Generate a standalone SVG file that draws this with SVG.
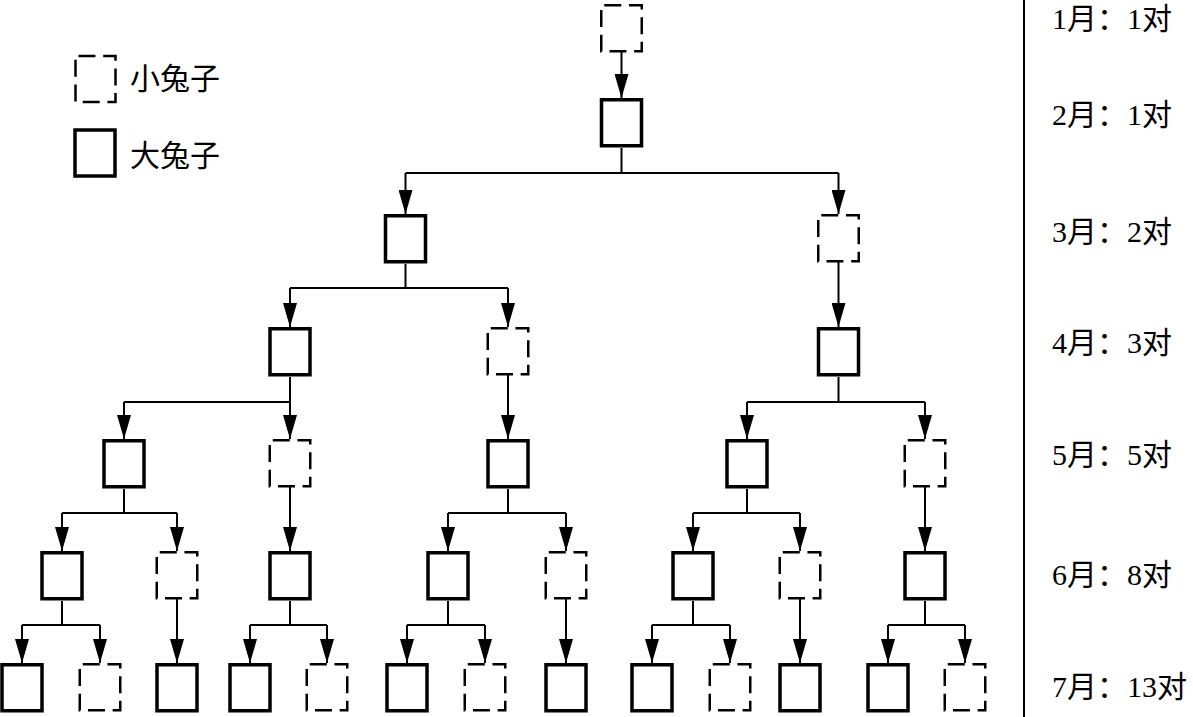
<svg xmlns="http://www.w3.org/2000/svg" width="1193" height="717" viewBox="0 0 1193 717">
<style>
.s{fill:#fff;stroke:#000;stroke-width:3.5}
.d{fill:#fff;stroke:#000;stroke-width:2.5;stroke-dasharray:17 7.7;stroke-dashoffset:21.7}
.c{fill:none;stroke:#000;stroke-width:2}
.a{fill:none;stroke:#000;stroke-width:2;marker-end:url(#ah)}
.t{font-family:"Liberation Serif","Noto Sans CJK SC",serif;font-size:30px;fill:#000}
</style>
<defs>
<marker id="ah" viewBox="0 -7 24 14" refX="24" refY="0" markerWidth="24" markerHeight="14" markerUnits="userSpaceOnUse" orient="auto">
<path d="M0,-7 L24,0 L0,7 z" fill="#000"/>
</marker>
</defs>
<rect width="1193" height="717" fill="#fff"/>

<g id="legend">
<rect class="d" x="75.5" y="56" width="40" height="46"/>
<text class="t" x="130" y="89">小兔子</text>
<rect class="s" x="75" y="130" width="40" height="46"/>
<text class="t" x="130" y="166">大兔子</text>
</g>

<g id="divider"><line x1="1024" y1="0" x2="1024" y2="717" stroke="#000" stroke-width="2"/></g>

<g id="months">
<text class="t" x="1052" y="29">1月：1对</text>
<text class="t" x="1052" y="125">2月：1对</text>
<text class="t" x="1052" y="242">3月：2对</text>
<text class="t" x="1052" y="353">4月：3对</text>
<text class="t" x="1052" y="465">5月：5对</text>
<text class="t" x="1052" y="585">6月：8对</text>
<text class="t" x="1052" y="697">7月：13对</text>
</g>

<g id="connectors">
<path class="a" d="M621.5,52 V98"/>
<path class="c" d="M621.5,148 V173 M405.5,173 H838.5"/>
<path class="a" d="M405.5,173 V214"/>
<path class="a" d="M838.5,173 V214"/>

<path class="c" d="M405.5,264 V288 M290,288 H508"/>
<path class="a" d="M290,288 V327"/>
<path class="a" d="M508,288 V327"/>
<path class="a" d="M838.5,262 V327"/>

<path class="c" d="M290,377 V402 M124,402 H290"/>
<path class="a" d="M124,402 V439"/>
<path class="a" d="M290,402 V439"/>
<path class="a" d="M508,375 V439"/>
<path class="c" d="M838.5,377 V402 M747,402 H925"/>
<path class="a" d="M747,402 V439"/>
<path class="a" d="M925,402 V439"/>

<path class="c" d="M124,489 V513 M62,513 H177"/>
<path class="a" d="M62,513 V551"/>
<path class="a" d="M177,513 V551"/>
<path class="a" d="M290,487 V551"/>
<path class="c" d="M508,489 V513 M448,513 H566"/>
<path class="a" d="M448,513 V551"/>
<path class="a" d="M566,513 V551"/>
<path class="c" d="M747,489 V513 M693,513 H800"/>
<path class="a" d="M693,513 V551"/>
<path class="a" d="M800,513 V551"/>
<path class="a" d="M925,487 V551"/>

<path class="c" d="M62,601 V625 M22,625 H100"/>
<path class="a" d="M22,625 V663"/>
<path class="a" d="M100,625 V663"/>
<path class="a" d="M177,599 V663"/>
<path class="c" d="M290,601 V625 M250,625 H327"/>
<path class="a" d="M250,625 V663"/>
<path class="a" d="M327,625 V663"/>
<path class="c" d="M448,601 V625 M407,625 H485"/>
<path class="a" d="M407,625 V663"/>
<path class="a" d="M485,625 V663"/>
<path class="a" d="M566,599 V663"/>
<path class="c" d="M693,601 V625 M652,625 H730"/>
<path class="a" d="M652,625 V663"/>
<path class="a" d="M730,625 V663"/>
<path class="a" d="M800,599 V663"/>
<path class="c" d="M925,601 V625 M888,625 H965"/>
<path class="a" d="M888,625 V663"/>
<path class="a" d="M965,625 V663"/>
</g>

<g id="n1"><rect class="d" x="601.25" y="5.25" width="40.5" height="46"/></g>
<g id="n2"><rect class="s" x="601.5" y="99.75" width="40" height="46"/></g>
<g id="n3a"><rect class="s" x="385.5" y="215.75" width="40" height="46"/></g>
<g id="n3b"><rect class="d" x="818.25" y="215.25" width="40.5" height="46"/></g>
<g id="n4a"><rect class="s" x="270" y="328.75" width="40" height="46"/></g>
<g id="n4b"><rect class="d" x="487.75" y="328.25" width="40.5" height="46"/></g>
<g id="n4c"><rect class="s" x="818.5" y="328.75" width="40" height="46"/></g>
<g id="n5a"><rect class="s" x="104" y="440.75" width="40" height="46"/></g>
<g id="n5b"><rect class="d" x="269.75" y="440.25" width="40.5" height="46"/></g>
<g id="n5c"><rect class="s" x="488" y="440.75" width="40" height="46"/></g>
<g id="n5d"><rect class="s" x="727" y="440.75" width="40" height="46"/></g>
<g id="n5e"><rect class="d" x="904.75" y="440.25" width="40.5" height="46"/></g>
<g id="n6a"><rect class="s" x="42" y="552.75" width="40" height="46"/></g>
<g id="n6b"><rect class="d" x="156.75" y="552.25" width="40.5" height="46"/></g>
<g id="n6c"><rect class="s" x="270" y="552.75" width="40" height="46"/></g>
<g id="n6d"><rect class="s" x="428" y="552.75" width="40" height="46"/></g>
<g id="n6e"><rect class="d" x="545.75" y="552.25" width="40.5" height="46"/></g>
<g id="n6f"><rect class="s" x="673" y="552.75" width="40" height="46"/></g>
<g id="n6g"><rect class="d" x="779.75" y="552.25" width="40.5" height="46"/></g>
<g id="n6h"><rect class="s" x="905" y="552.75" width="40" height="46"/></g>
<g id="n7a"><rect class="s" x="2" y="664.75" width="40" height="46"/></g>
<g id="n7b"><rect class="d" x="79.75" y="664.25" width="40.5" height="46"/></g>
<g id="n7c"><rect class="s" x="157" y="664.75" width="40" height="46"/></g>
<g id="n7d"><rect class="s" x="230" y="664.75" width="40" height="46"/></g>
<g id="n7e"><rect class="d" x="306.75" y="664.25" width="40.5" height="46"/></g>
<g id="n7f"><rect class="s" x="387" y="664.75" width="40" height="46"/></g>
<g id="n7g"><rect class="d" x="464.75" y="664.25" width="40.5" height="46"/></g>
<g id="n7h"><rect class="s" x="546" y="664.75" width="40" height="46"/></g>
<g id="n7i"><rect class="s" x="632" y="664.75" width="40" height="46"/></g>
<g id="n7j"><rect class="d" x="709.75" y="664.25" width="40.5" height="46"/></g>
<g id="n7k"><rect class="s" x="780" y="664.75" width="40" height="46"/></g>
<g id="n7l"><rect class="s" x="868" y="664.75" width="40" height="46"/></g>
<g id="n7m"><rect class="d" x="944.75" y="664.25" width="40.5" height="46"/></g>
</svg>
